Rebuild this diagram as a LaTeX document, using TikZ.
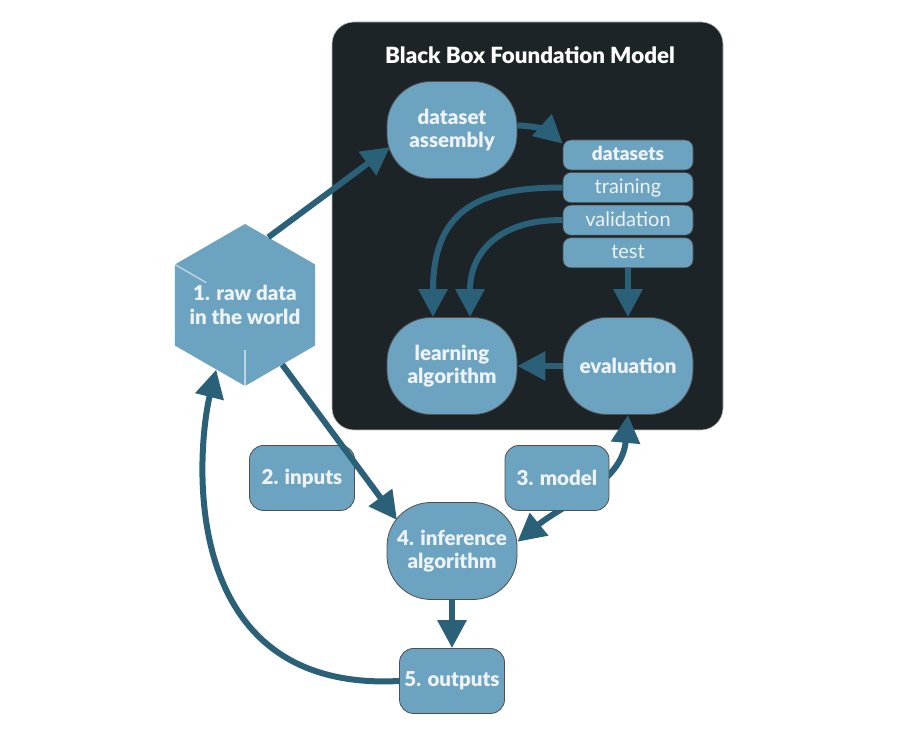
\documentclass[tikz,border=0pt]{standalone}
\usepackage{fontspec}
\setmainfont{Lato}[BoldFont={Lato Black}]
\usetikzlibrary{positioning,arrows.meta,calc,shapes.geometric}
\definecolor{boxdark}{HTML}{1D2428}
\definecolor{nodeblue}{HTML}{6BA3C1}
\definecolor{flowteal}{HTML}{2A6179}
\definecolor{textpale}{HTML}{EEF3F7}
\definecolor{rim}{HTML}{4F4F4F}
\newcommand{\bigtxt}{\fontsize{20.5}{23.5}\selectfont\bfseries}
\tikzset{
  blackbox/.style = {rectangle, rounded corners=22pt, draw=gray!55, fill=boxdark, line width=0.6pt,
                     minimum width=391pt, minimum height=408pt},
  blob/.style     = {rectangle, rounded corners=44pt, draw=rim, fill=nodeblue, line width=0.8pt,
                     minimum width=130pt, minimum height=97pt, align=center, text=textpale, font=\bigtxt},
  tag/.style      = {rectangle, rounded corners=14pt, draw=rim, fill=nodeblue, line width=0.8pt,
                     minimum width=105pt, minimum height=65pt, align=center, text=textpale, font=\bigtxt},
  row/.style      = {rectangle, rounded corners=8pt, draw=rim, fill=nodeblue, line width=0.6pt,
                     minimum width=130pt, minimum height=30pt, inner sep=0pt, text height=16pt, text depth=4pt,
                     text=textpale, font=\fontsize{20}{22}\selectfont},
  hexa/.style     = {regular polygon, regular polygon sides=6, shape border rotate=30, minimum size=162pt,
                     inner sep=0pt, fill=nodeblue},
  hexlabel/.style = {inner sep=0pt, align=center, text=textpale, font=\bigtxt},
  flow/.style     = {-{Triangle[length=28pt, width=28pt]}, line width=6pt, draw=flowteal},
  flowboth/.style = {{Triangle[length=28pt, width=28pt]}-{Triangle[length=28pt, width=28pt]},
                     line width=6pt, draw=flowteal},
  shine/.style    = {draw=white, line width=1.4pt, opacity=0.55},
}

\begin{document}
\begin{tikzpicture}[x=1pt, y=1pt]
  \useasboundingbox (0,0) rectangle (903,738);
  \node[blackbox] (bbox) at (527.5,512) {};
  \node[font=\fontsize{22.3}{26}\selectfont\bfseries, text=white] (title) at (530,683) {Black Box Foundation Model};
  \node[blob] (assembly) at (452,608) {dataset\\assembly};
  \node[row, font=\fontsize{19}{22}\selectfont\bfseries] (dsets) at (628,583) {datasets};
  \node[row, below=2pt of dsets] (train) {training};
  \node[row, below=2pt of train] (valid) {validation};
  \node[row, below=2pt of valid] (test) {test};
  \node[blob] (learn) at (452,372) {learning\\algorithm};
  \node[blob] (eval) at (628,372) {evaluation};
  \node[hexa] (world) at (245,433) {};
  \draw[shine] (world.150) -- ($(world.150)!0.45!(world.center)$);
  \draw[shine] (world.270) -- ($(world.270)!0.45!(world.center)$);
  \node[hexlabel] (worldtxt) at (world.center) {1. raw data\\in the world};
  \node[tag] (inputs) at (302,260) {2. inputs};
  \node[blob] (infer) at (452,187) {4. inference\\algorithm};
  \node[tag] (outputs) at (452,57) {5. outputs};
  % connectors
  \draw[flow] (world.71) -- ($(assembly)+(-62,-17)$);
  \draw[flow] (assembly.4) to[bend left=20] ($(dsets.north west)+(0,-4)$);
  \draw[flow] (train.west) .. controls (475,551) and (433,525) .. ($(learn.north)+(-19,0)$);
  \draw[flow] (valid.west) .. controls (505,519) and (470,490) .. ($(learn.north)+(18,0)$);
  \draw[flow] (test.south) -- (eval.north);
  \draw[flow] (eval.west) -- (learn.east);
  \draw[flow] (world.302) -- ($(infer)+(-55,31)$);
  \draw[flowboth] (infer.8) .. controls (565,235) and (622,255) .. (eval.south);
  \draw[flow] (infer.south) -- (outputs.north);
  \draw[flow] (outputs.west) .. controls (172,45) and (198,295) .. (world.246);
  % model sits on top of its connector
  \node[tag, minimum width=104pt] (model) at (557,260) {3. model};
\end{tikzpicture}
\end{document}
